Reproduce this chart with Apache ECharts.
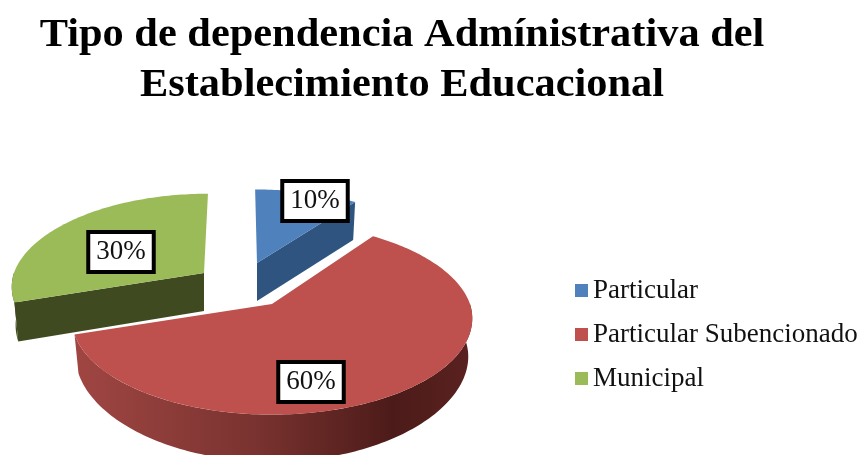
<!DOCTYPE html>
<html>
<head>
<meta charset="utf-8">
<title>Tipo de dependencia</title>
<script src="https://cdn.jsdelivr.net/npm/echarts@6/dist/echarts.min.js"></script>
<style>
  html,body{margin:0;padding:0;background:#fff;}
  #main{width:863px;height:455px;}
</style>
</head>
<body>
<div id="main"></div>
<script>
// datos
var categories = ['Particular', 'Particular Subencionado', 'Municipal'];
var values = [10, 60, 30];
var colors = ['#4f81bd', '#be504d', '#9bbb59'];
var chartTitle = 'Tipo de dependencia Admínistrativa del\nEstablecimiento Educacional';

// explosion de cada porcion, y caja de su etiqueta
var sliceLayout = {
  'Particular': {cx: 257, cy: 263, scaleX: 0.96, scaleY: 0.9, side: '#2f5480', labelX: 315, labelY: 201},
  'Particular Subencionado': {cx: 272, cy: 304, scaleX: 1, scaleY: 1, side: null, labelX: 311, labelY: 382},
  'Municipal': {cx: 204, cy: 273, scaleX: 0.96, scaleY: 0.97, side: '#3f4a20', labelX: 121, labelY: 252}
};
var radiusX = 198, radiusY = 94, persp = 0.15, depth = 38;
var vanishX = 240; // el fondo de la torta converge hacia este x

var total = values.reduce(function (a, b) { return a + b; }, 0);

// punto del borde superior en el angulo t (0 = arriba, sentido horario)
function topPoint(p, t) {
  var X = Math.sin(t), Y = -Math.cos(t);
  var s = 1 / (1 - persp * Y);
  var shift = (vanishX - p.cx) * 0.11 * Math.max(0, -Y);
  return [p.cx + radiusX * X * s * p.scaleX + shift, p.cy + radiusY * Y * s * p.scaleY];
}
// mismo punto en la base de la torta
function basePoint(p, t) {
  var q = topPoint(p, t), Y = -Math.cos(t);
  return [p.cx + (q[0] - p.cx) * 0.98, q[1] + depth + 9 * Y * Y * (Y > 0 ? 1 : 0)];
}
function arc(fn, p, a0, a1) {
  var pts = [], n = Math.max(2, Math.ceil((a1 - a0) / 0.02));
  for (var i = 0; i <= n; i++) pts.push(fn(p, a0 + (a1 - a0) * i / n));
  return pts;
}

function makeSeries(idx) {
  var name = categories[idx];
  var before = 0;
  for (var i = 0; i < idx; i++) before += values[i];
  return {
    name: name,
    type: 'custom',
    coordinateSystem: 'none',
    itemStyle: {color: colors[idx]},
    data: [[values[idx], before]],
    renderItem: function (params, api) {
      var p = sliceLayout[name];
      var a0 = api.value(1) / total * Math.PI * 2;
      var a1 = a0 + api.value(0) / total * Math.PI * 2;
      var apex = [p.cx, p.cy], apexB = [p.cx, p.cy + depth];
      var sideFill = p.side || new echarts.graphic.LinearGradient(0, 0, 1, 0, [
        {offset: 0, color: '#a04643'},
        {offset: 0.45, color: '#7a3330'},
        {offset: 0.8, color: '#4c1b19'},
        {offset: 1, color: '#5a2220'}
      ]);
      var kids = [];
      // paredes de los cortes
      if (Math.sin(a1) > 0.01) kids.push({type: 'polygon', shape: {points: [apex, topPoint(p, a1), basePoint(p, a1), apexB]}, style: {fill: sideFill}});
      if (Math.sin(a0) < -0.01) kids.push({type: 'polygon', shape: {points: [apex, topPoint(p, a0), basePoint(p, a0), apexB]}, style: {fill: sideFill}});
      // pared exterior (solo la parte frontal)
      var w0 = Math.max(a0, Math.PI / 2), w1 = Math.min(a1, Math.PI * 1.5);
      if (w1 > w0) {
        var wall = arc(topPoint, p, w0, w1).concat(arc(basePoint, p, w0, w1).reverse());
        kids.push({type: 'polygon', shape: {points: wall}, style: {fill: sideFill}});
      }
      // cara superior
      kids.push({type: 'polygon', shape: {points: [apex].concat(arc(topPoint, p, a0, a1))}, style: {fill: colors[idx]}});
      kids.push({
        type: 'text', z2: 50,
        style: {
          text: api.value(0) + '%', x: p.labelX, y: p.labelY, align: 'center', verticalAlign: 'middle',
          font: '27px "Liberation Serif"', fill: '#111',
          backgroundColor: '#fff', borderColor: '#000', borderWidth: 4, padding: [5, 6, 4, 6]
        }
      });
      return {type: 'group', children: kids};
    }
  };
}

var chart = echarts.init(document.getElementById('main'));
chart.setOption({
  backgroundColor: '#fff',
  animation: false,
  // el titulo original esta estirado a lo ancho, por eso va como texto con scaleX
  graphic: [{
    type: 'text',
    x: 402,
    y: 61,
    scaleX: 1.087,
    style: {
      text: chartTitle,
      align: 'center',
      verticalAlign: 'middle',
      font: 'bold 39px "Liberation Serif"',
      lineHeight: 50,
      fill: '#000'
    }
  }],
  legend: {
    data: categories,
    orient: 'vertical',
    left: 570,
    top: 272,
    icon: 'rect',
    itemWidth: 13,
    itemHeight: 13,
    itemGap: 17,
    textStyle: {fontFamily: 'Liberation Serif', fontSize: 27, color: '#111'}
  },
  // orden de dibujo: la porcion roja queda encima
  series: [makeSeries(2), makeSeries(0), makeSeries(1)]
});
</script>
</body>
</html>
